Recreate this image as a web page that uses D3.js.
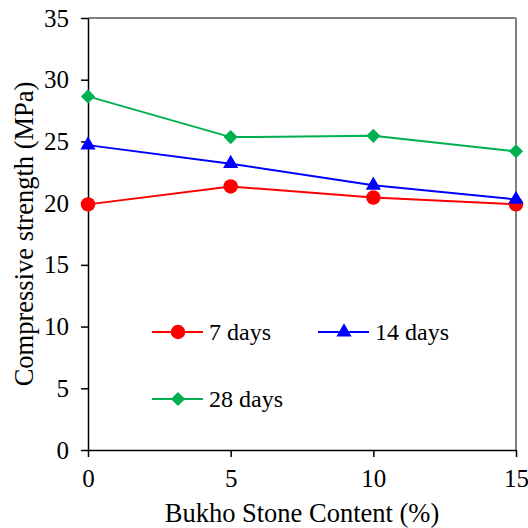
<!DOCTYPE html>
<html>
<head>
<meta charset="utf-8">
<script src="https://cdn.jsdelivr.net/npm/d3@7"></script>
</head>
<body style="margin:0">
<script>
var contents = [0, 5, 10, 15];
var days7 = [19.9, 21.35, 20.45, 19.9];
var days14 = [24.7, 23.2, 21.45, 20.3];
var days28 = [28.65, 25.35, 25.45, 24.2];
var seriesNames = ['7 days', '14 days', '28 days'];
var yTicks = [0, 5, 10, 15, 20, 25, 30, 35];
var xTicks = [0, 5, 10, 15];

var FONT = 'Liberation Serif';

var series = [
  {name: seriesNames[0], values: days7, color: '#ff0000', shape: 'circle'},
  {name: seriesNames[1], values: days14, color: '#0000ff', shape: 'triangle'},
  {name: seriesNames[2], values: days28, color: '#00b050', shape: 'diamond'}
];

var m = {t:18, r:12, b:78, l:88},
    W = 528, H = 528,
    w = W - m.l - m.r,
    h = H - m.t - m.b;

var svg = d3.select('body')
    .append('svg')
    .attr('width', W)
    .attr('height', H)
    .attr('font-family', FONT);

var plot = svg.append('g')
    .attr('transform', 'translate(' + m.l + ',' + m.t + ')');

var x = d3.scaleLinear().domain([0, 15]).range([0, w]);
var y = d3.scaleLinear().domain([0, 35]).range([h, 0]);

// marker shapes
function marker(shape){
  if (shape === 'circle') return d3.symbol().type(d3.symbolCircle).size(165)();
  if (shape === 'triangle') return d3.symbol().type(d3.symbolTriangle).size(100)();
  return d3.symbol().type(d3.symbolSquare).size(100)();
}
function markerRot(shape){ return shape === 'diamond' ? ' rotate(45)' : ''; }

// frame: top black, right gray
plot.append('line').attr('x1', 0).attr('x2', w).attr('y1', 0).attr('y2', 0)
    .attr('stroke', '#000').attr('stroke-width', 1.2);
plot.append('line').attr('x1', w).attr('x2', w).attr('y1', 0).attr('y2', h)
    .attr('stroke', '#808080').attr('stroke-width', 2);

// axes
var xAxis = plot.append('g')
    .attr('transform', 'translate(0,' + h + ')')
    .call(d3.axisBottom(x).tickValues(xTicks).tickSizeInner(7).tickSizeOuter(0).tickPadding(12));
var yAxis = plot.append('g')
    .call(d3.axisLeft(y).tickValues(yTicks).tickSizeInner(7).tickSizeOuter(0).tickPadding(12));

[xAxis, yAxis].forEach(function(a){
  a.attr('font-family', FONT).attr('font-size', 25);
  a.selectAll('path, line').attr('stroke', '#000').attr('stroke-width', 1.5);
  a.selectAll('text').attr('font-family', FONT).attr('fill', '#000');
});

// lines and markers
var line = d3.line()
    .x(function(d, i){ return x(contents[i]); })
    .y(function(d){ return y(d); });

series.forEach(function(s){
  plot.append('path')
      .datum(s.values)
      .attr('d', line)
      .attr('fill', 'none')
      .attr('stroke', s.color)
      .attr('stroke-width', 2);
});
series.forEach(function(s){
  plot.selectAll(null)
      .data(s.values)
      .enter().append('path')
      .attr('d', marker(s.shape))
      .attr('transform', function(d, i){ return 'translate(' + x(contents[i]) + ',' + y(d) + ')' + markerRot(s.shape); })
      .attr('fill', s.color);
});

// legend
var legendPos = [[152, 332], [318, 332], [152, 399]];
series.forEach(function(s, i){
  var g = svg.append('g').attr('transform', 'translate(' + legendPos[i][0] + ',' + legendPos[i][1] + ')');
  g.append('line').attr('x1', 0).attr('x2', 51).attr('y1', 0).attr('y2', 0)
      .attr('stroke', s.color).attr('stroke-width', 2);
  g.append('path').attr('d', marker(s.shape))
      .attr('transform', 'translate(26,0)' + markerRot(s.shape)).attr('fill', s.color);
  g.append('text').attr('x', 57).attr('y', 8)
      .attr('font-family', FONT).attr('font-size', 24).text(s.name);
});

// axis titles
svg.append('text')
    .attr('x', m.l + w / 2).attr('y', 522)
    .attr('text-anchor', 'middle')
    .attr('font-family', FONT).attr('font-size', 26.5)
    .text('Bukho Stone Content (%)');
svg.append('text')
    .attr('transform', 'translate(33,234) rotate(-90)')
    .attr('text-anchor', 'middle')
    .attr('font-family', FONT).attr('font-size', 26.5)
    .text('Compressive strength (MPa)');
</script>
</body>
</html>
